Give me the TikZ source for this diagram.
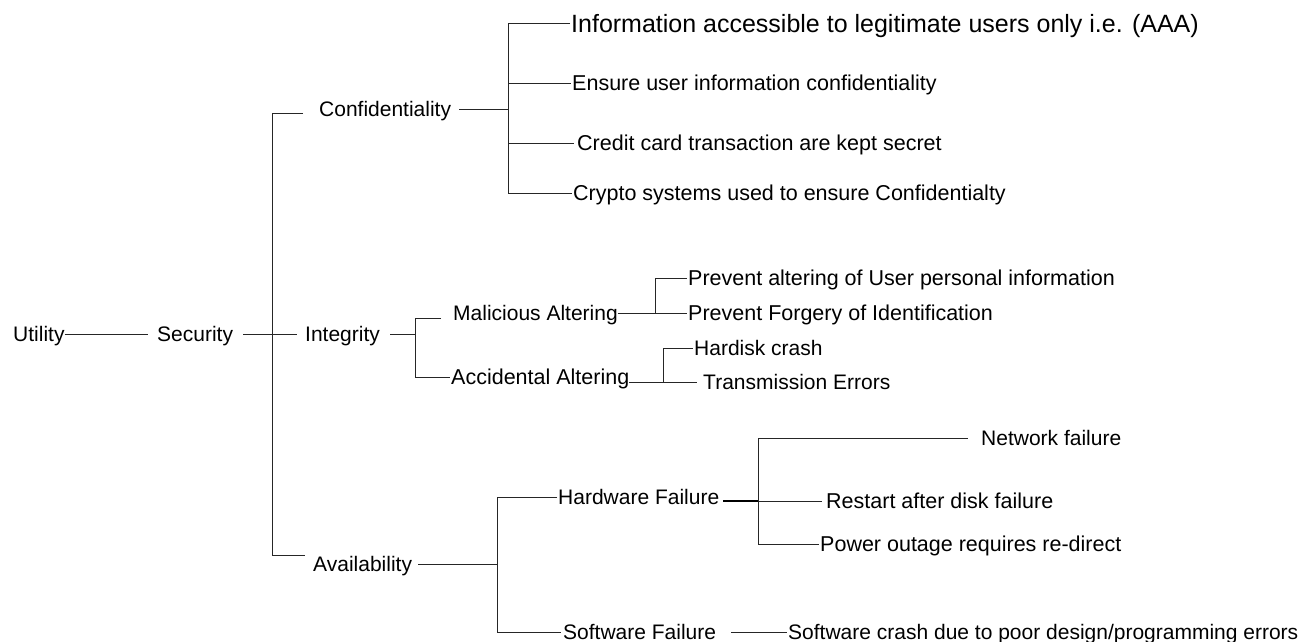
\documentclass[tikz,border=0pt]{standalone}
\usepackage{fontspec}
\setmainfont{Liberation Sans}
\begin{document}
\begin{tikzpicture}[x=1pt,y=-1pt,
  lbl/.style={anchor=west, inner sep=0pt, font=\fontsize{21}{25}\selectfont,
              text height=15pt, text depth=0pt},
  leaf/.style={lbl, font=\fontsize{21.5}{25}\selectfont},
  biglbl/.style={lbl, font=\fontsize{25}{30}\selectfont, text height=18pt},
  link/.style={draw=black!85, line width=1pt},
  boldlink/.style={draw=black, line width=1.6pt}]
\useasboundingbox (0,0) rectangle (1309,642);

% vertical bars of the tree
\coordinate (sbar) at (272,0);
\coordinate (cbar) at (508,0);
\coordinate (ibar) at (415,0);
\coordinate (mbar) at (655,0);
\coordinate (abar) at (663,0);
\coordinate (vbar) at (497,0);
\coordinate (hbar) at (758,0);

% root and first levels
\node[lbl] (util)  at (13,334)  {Utility};
\node[lbl] (sec)   at (157,334) {Security};
\node[lbl] (conf)  at (319,109) {Confidentiality};
\node[lbl] (integ) at (305,334) {Integrity};
\node[lbl] (avail) at (313,564) {Availability};

% confidentiality leaves
\node[biglbl] (c1) at (571,24)  {Information accessible to legitimate users only i.e. (AAA)};
\node[leaf]   (c2) at (572,83)  {Ensure user information confidentiality};
\node[leaf]   (c3) at (577,143) {Credit card transaction are kept secret};
\node[leaf]   (c4) at (573,193) {Crypto systems used to ensure Confidentialty};

% integrity subtree
\node[lbl]  (mal) at (453,313) {Malicious Altering};
\node[leaf] (acc) at (451,377) {Accidental Altering};
\node[leaf] (m1)  at (688,278) {Prevent altering of User personal information};
\node[leaf] (m2)  at (688,313) {Prevent Forgery of Identification};
\node[lbl]  (a1)  at (694,348) {Hardisk crash};
\node[lbl]  (a2)  at (703,382) {Transmission Errors};

% availability subtree
\node[lbl]  (hw) at (558,497) {Hardware Failure};
\node[lbl]  (sw) at (563,632) {Software Failure};
\node[lbl]  (h1) at (981,438) {Network failure};
\node[leaf] (h2) at (826,501) {Restart after disk failure};
\node[leaf] (h3) at (820,544) {Power outage requires re-direct};
\node[lbl]  (s1) at (788,632) {Software crash due to poor design/programming errors};

% root connectors
\draw[link] (util.east) -- ([xshift=-9pt]sec.west);
\draw[link] ([xshift=10pt]sec.east) -- ([xshift=-8pt]integ.west);
\draw[link] ([xshift=-16pt,yshift=-4pt]conf.west) -- ([yshift=-4pt]conf.west -| sbar)
            -- ([yshift=9pt]avail.west -| sbar) -- ([xshift=-8pt,yshift=9pt]avail.west);

% confidentiality
\draw[link] ([xshift=8pt]conf.east) -- (conf.east -| cbar);
\draw[link] ([xshift=-1pt]c1.west) -- (c1.west -| cbar) -- (c4.west -| cbar) -- ([xshift=-1pt]c4.west);
\draw[link] (c2.west -| cbar) -- ([xshift=-1pt]c2.west);
\draw[link] (c3.west -| cbar) -- ([xshift=-3pt]c3.west);

% integrity
\draw[link] ([xshift=10pt]integ.east) -- (integ.east -| ibar);
\draw[link] ([xshift=-12pt,yshift=-5pt]mal.west) -- ([yshift=-5pt]mal.west -| ibar)
            -- (acc.west -| ibar) -- ([xshift=-1pt]acc.west);
\draw[link] (mal.east) -- ([xshift=-1pt]m2.west);
\draw[link] (m2.west -| mbar) -- (m1.west -| mbar) -- ([xshift=-1pt]m1.west);
\draw[link] ([yshift=-5pt]acc.east) -- ([xshift=-6pt]a2.west);
\draw[link] (a2.west -| abar) -- (a1.west -| abar) -- ([xshift=-1pt]a1.west);

% availability
\draw[link] ([xshift=6pt]avail.east) -- (avail.east -| vbar);
\draw[link] ([xshift=-1pt]hw.west) -- (hw.west -| vbar) -- (sw.west -| vbar) -- ([xshift=-2pt]sw.west);
\draw[boldlink] ([xshift=4pt,yshift=-4pt]hw.east) -- ([yshift=-4pt]hw.east -| hbar);
\draw[link] (h1.west -| hbar) -- (h3.west -| hbar);
\draw[link] (h1.west -| hbar) -- ([xshift=-13pt]h1.west);
\draw[link] (h2.west -| hbar) -- ([xshift=-4pt]h2.west);
\draw[link] (h3.west -| hbar) -- ([xshift=-1pt]h3.west);
\draw[link] ([xshift=15pt]sw.east) -- ([xshift=-1pt]s1.west);
\end{tikzpicture}
\end{document}
